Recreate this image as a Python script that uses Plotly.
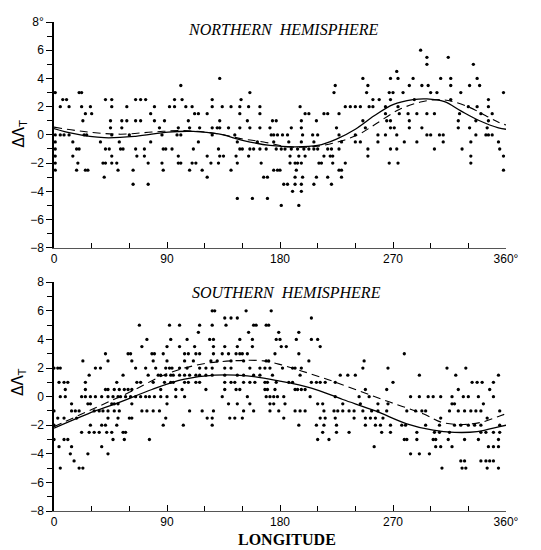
import plotly.graph_objects as go

# ---------------- data ----------------
# Northern hemisphere: rows of (deviation value, longitudes where a point sits)
north_rows = [
    (6.0, [292]),
    (5.5, [297, 314]),
    (5.0, [297, 334]),
    (4.5, [273]),
    (4.0, [132, 246, 268, 274, 286, 308, 316, 337]),
    (3.5, [101, 224, 250, 283, 293, 298, 316, 331, 339]),
    (3.0, [1, 20, 22, 156, 223, 249, 267, 270, 278, 300, 305, 324, 358]),
    (2.5, [7, 10, 41, 46, 65, 69, 73, 96, 102, 126, 149, 254, 259, 268, 287, 316, 346]),
    (2.0, [5, 12, 22, 29, 46, 58, 80, 92, 96, 105, 110, 126, 134, 141, 148, 155, 164, 196,
           232, 236, 240, 244, 251, 254, 264, 274, 330, 337, 346]),
    (1.5, [25, 30, 77, 112, 115, 122, 148, 164, 200, 203, 215, 218, 227, 264, 275, 282, 289,
           297, 303, 323, 340, 349]),
    (1.0, [23, 45, 54, 58, 65, 69, 80, 88, 107, 132, 154, 174, 177, 197, 209, 246, 265, 268,
           283, 322, 336, 346]),
    (0.5, [45, 54, 84, 99, 108, 116, 126, 130, 132, 139, 148, 156, 164, 172, 189, 197, 225,
           248, 268, 271, 283, 293, 322, 331, 345]),
    (0.0, [1, 5, 8, 12, 24, 26, 46, 60, 86, 98, 101, 126, 144, 173, 175, 178, 182, 186, 198,
           206, 210, 227, 240, 258, 264, 273, 297, 300, 307, 310, 336, 344, 346, 349]),
    (-0.5, [1, 15, 37, 52, 77, 115, 146, 162, 175, 187, 197, 207, 229, 240, 244, 258, 279,
            289, 310, 332, 354]),
    (-1.0, [1, 18, 20, 41, 44, 53, 55, 65, 72, 87, 89, 94, 111, 131, 148, 150, 156, 159, 164,
            169, 177, 181, 184, 189, 194, 199, 203, 207, 210, 218, 221, 227, 250, 268, 273,
            303, 325, 355]),
    (-1.5, [1, 15, 46, 66, 72, 99, 122, 132, 135, 145, 155, 188, 195, 200, 215, 220, 222,
            250, 332, 358]),
    (-2.0, [1, 19, 39, 41, 46, 50, 75, 86, 99, 101, 110, 113, 125, 131, 146, 165, 188, 192,
            194, 197, 211, 213, 222, 232, 267, 274, 332]),
    (-2.5, [1, 18, 25, 27, 51, 63, 87, 108, 118, 141, 175, 178, 180, 193, 227, 229, 358]),
    (-3.0, [40, 122, 167, 170, 192, 198, 209, 218, 229]),
    (-3.5, [63, 75, 183, 186, 192, 197, 207, 221]),
    (-4.0, [190, 197]),
    (-4.5, [146, 158, 170]),
    (-5.0, [181, 195]),
]

# Southern hemisphere
south_rows = [
    (6.0, [126, 128, 153, 173]),
    (5.5, [136, 141, 146, 205]),
    (5.0, [68, 92, 100, 116, 126, 137, 159, 161, 169, 171]),
    (4.5, [115, 155, 179, 195]),
    (4.0, [74, 93, 106, 124, 127, 148, 158, 177, 180, 193, 205, 210]),
    (3.5, [70, 90, 100, 112, 127, 136, 146, 158, 181, 185, 212]),
    (3.0, [41, 59, 61, 78, 80, 87, 104, 107, 113, 116, 127, 134, 139, 145, 148, 150, 154,
           176, 195, 279]),
    (2.5, [23, 43, 62, 79, 90, 104, 111, 125, 130, 141, 151, 169, 171, 203, 247]),
    (2.0, [0, 3, 5, 33, 37, 65, 73, 81, 89, 92, 94, 100, 106, 116, 121, 126, 136, 141, 156,
           164, 168, 172, 182, 190, 192, 197, 246, 266, 313, 328]),
    (1.5, [28, 55, 75, 83, 85, 89, 93, 95, 100, 104, 108, 113, 116, 121, 126, 136, 146, 151,
           159, 164, 174, 196, 228, 234, 240, 291, 320, 354]),
    (1.0, [4, 8, 11, 25, 50, 66, 69, 79, 88, 93, 95, 104, 107, 113, 116, 136, 141, 144, 151,
           156, 160, 168, 170, 177, 187, 190, 205, 209, 212, 216, 224, 270, 333, 337, 341, 350]),
    (0.5, [9, 25, 41, 43, 48, 52, 56, 59, 62, 85, 97, 102, 121, 136, 145, 148, 168, 170, 176,
           192, 194, 197, 200, 248, 265, 322, 347]),
    (0.0, [5, 9, 22, 25, 29, 33, 38, 43, 47, 51, 53, 57, 61, 65, 69, 73, 76, 80, 85, 90, 97,
           104, 134, 154, 169, 172, 175, 178, 183, 204, 224, 243, 251, 284, 291, 298, 302,
           308, 317, 326, 330, 338, 350]),
    (-0.5, [14, 27, 29, 46, 48, 51, 62, 90, 139, 146, 156, 172, 175, 184, 210, 214, 230,
            244, 258, 266, 317, 319, 342]),
    (-1.0, [0, 14, 17, 20, 32, 36, 39, 43, 48, 52, 70, 74, 79, 84, 108, 118, 127, 151, 159,
            172, 179, 192, 196, 200, 215, 223, 226, 230, 235, 239, 246, 253, 258, 265, 281,
            288, 293, 296, 315, 322, 327, 332, 336, 340, 355]),
    (-1.5, [3, 8, 18, 43, 51, 60, 62, 89, 122, 126, 140, 144, 150, 183, 212, 216, 224, 239,
            248, 252, 256, 262, 308, 345]),
    (-2.0, [0, 29, 38, 41, 50, 87, 103, 126, 195, 209, 215, 225, 248, 256, 260, 268, 277,
            280, 296, 307, 319, 324, 330, 335, 340, 355]),
    (-2.5, [22, 28, 32, 36, 42, 46, 55, 57, 214, 225, 235, 261, 268, 289, 303, 307, 315,
            340, 344, 350, 355]),
    (-3.0, [0, 8, 11, 47, 56, 76, 210, 219, 279, 281, 289, 302, 304, 314, 327, 338, 354]),
    (-3.5, [4, 14, 38, 255, 304, 308, 317, 346, 350, 354]),
    (-4.0, [13, 27, 43, 284, 291, 299]),
    (-4.5, [16, 324, 327, 340, 344, 347, 350]),
    (-5.0, [5, 20, 23, 309, 325, 328, 345, 354]),
]

# fitted curves
north_fit_lon = [0, 15, 40, 65, 91, 111, 131, 151, 172, 192, 210, 225, 240, 255, 270, 286,
                 297, 311, 324, 339, 354, 360]
north_fit_val = [0.45, 0.1, -0.2, -0.1, 0.2, 0.25, 0.07, -0.4, -0.75, -0.85, -0.75, -0.3,
                 0.4, 1.35, 2.15, 2.5, 2.55, 2.35, 1.7, 1.0, 0.5, 0.4]
north_dash_lon = [0, 27, 53, 78, 103, 129, 151, 167, 187, 210, 230, 243, 255, 275, 293,
                  308, 318, 331, 344, 354, 360]
north_dash_val = [0.55, 0.2, 0.05, 0.2, 0.3, 0.1, -0.3, -0.5, -0.85, -0.8, -0.4, 0.05, 0.7,
                  1.8, 2.35, 2.5, 2.35, 1.95, 1.35, 0.9, 0.7]

south_fit_lon = [0, 27, 52, 78, 103, 128, 154, 179, 205, 230, 256, 281, 302, 319, 337, 355, 360]
south_fit_val = [-2.2, -1.2, -0.4, 0.5, 1.2, 1.5, 1.45, 1.1, 0.6, -0.2, -1.0, -1.9, -2.35,
                 -2.5, -2.45, -2.1, -2.0]
south_dash_lon = [0, 30, 60, 90, 116, 141, 167, 182, 197, 218, 243, 268, 294, 309, 324, 340,
                  355, 360]
south_dash_val = [-2.1, -0.9, 0.3, 1.6, 2.25, 2.5, 2.5, 2.2, 1.8, 1.2, 0.4, -0.4, -1.2,
                  -1.8, -1.95, -1.8, -1.35, -1.2]

x_tickvals = [0, 90, 180, 270, 360]
x_ticktext = ["0", "90", "180", "270", "360°"]
y_tickvals = [-8, -6, -4, -2, 0, 2, 4, 6, 8]
y_ticktext_top = ["−8", "−6", "−4", "−2", "0", "2", "4", "6", "8°"]
y_ticktext_bot = ["−8", "−6", "−4", "−2", "0", "2", "4", "6", "8"]


def flatten(rows):
    xs, ys = [], []
    for v, lons in rows:
        for lo in lons:
            xs.append(lo)
            ys.append(v)
    return xs, ys


nx, ny = flatten(north_rows)
sx, sy = flatten(south_rows)

fig = go.Figure()
mk = dict(symbol="circle", size=3.3, color="black")

fig.add_trace(go.Scatter(x=nx, y=ny, mode="markers", marker=mk, xaxis="x", yaxis="y",
                         showlegend=False))
fig.add_trace(go.Scatter(x=north_fit_lon, y=north_fit_val, mode="lines",
                         line=dict(color="black", width=1.3, shape="spline"),
                         xaxis="x", yaxis="y", showlegend=False))
fig.add_trace(go.Scatter(x=north_dash_lon, y=north_dash_val, mode="lines",
                         line=dict(color="black", width=1.1, shape="spline", dash="8px,5px"),
                         xaxis="x", yaxis="y", showlegend=False))

fig.add_trace(go.Scatter(x=sx, y=sy, mode="markers", marker=mk, xaxis="x2", yaxis="y2",
                         showlegend=False))
fig.add_trace(go.Scatter(x=south_fit_lon, y=south_fit_val, mode="lines",
                         line=dict(color="black", width=1.3, shape="spline"),
                         xaxis="x2", yaxis="y2", showlegend=False))
fig.add_trace(go.Scatter(x=south_dash_lon, y=south_dash_val, mode="lines",
                         line=dict(color="black", width=1.1, shape="spline", dash="8px,5px"),
                         xaxis="x2", yaxis="y2", showlegend=False))

tick_font = dict(family="Liberation Sans, Arial, sans-serif", size=12, color="black")

xcommon = dict(range=[0, 360], tickvals=x_tickvals, ticktext=x_ticktext, ticks="inside",
               ticklen=6, tickwidth=1, tickcolor="black", showline=True, linecolor="#555",
               linewidth=1, showgrid=False, zeroline=False, tickfont=tick_font,
               minor=dict(dtick=30, tick0=0, ticks="inside", ticklen=5, tickcolor="black",
                          showgrid=False))
ycommon = dict(range=[-8, 8], tickvals=y_tickvals, ticks="outside", ticklen=6, tickwidth=1,
               tickcolor="black", showline=True, linecolor="black", linewidth=1.5,
               showgrid=False, zeroline=False, tickfont=tick_font,
               minor=dict(dtick=1, tick0=0, ticks="outside", ticklen=5, tickcolor="black",
                          showgrid=False))

# the page body has an 8px margin, so the figure is 8px smaller and margins shifted
W, H = 533, 542
ML, MR, MT, MB = 46, 35, 7, 39
plot_h = H - MT - MB  # 496
top_dom = [267 / plot_h, 1.0]
bot_dom = [0.0, 232 / plot_h]

fig.update_layout(
    width=W, height=H,
    margin=dict(l=ML, r=MR, t=MT, b=MB),
    paper_bgcolor="white", plot_bgcolor="white",
    xaxis=dict(domain=[0, 1], anchor="y", **xcommon),
    yaxis=dict(domain=top_dom, anchor="x", ticktext=y_ticktext_top, **ycommon),
    xaxis2=dict(domain=[0, 1], anchor="y2", **xcommon),
    yaxis2=dict(domain=bot_dom, anchor="x2", ticktext=y_ticktext_bot, **ycommon),
)


def py(page_y):
    # page pixel y -> paper fraction
    return (511 - page_y) / plot_h


def px(page_x):
    return (page_x - 54) / 452


serif = "Liberation Serif, Times New Roman, serif"
common_ann = dict(xref="paper", yref="paper", showarrow=False, xanchor="center",
                  yanchor="middle")
fig.add_annotation(text="<i>NORTHERN  HEMISPHERE</i>", x=px(283), y=py(23),
                   font=dict(family=serif, size=16, color="black"), **common_ann)
fig.add_annotation(text="<i>SOUTHERN  HEMISPHERE</i>", x=px(286), y=py(289),
                   font=dict(family=serif, size=16, color="black"), **common_ann)
fig.add_annotation(text="<b>LONGITUDE</b>", x=px(287), y=py(540),
                   font=dict(family=serif, size=16, color="black"), **common_ann)
for yc in [py(128), py(380)]:
    fig.add_annotation(text="ΔΛ<sub>T</sub>", x=px(19), y=yc, textangle=-90,
                       font=dict(family="DejaVu Sans, Arial, sans-serif", size=15,
                                 color="black"), **common_ann)

fig.write_html("out.html")
